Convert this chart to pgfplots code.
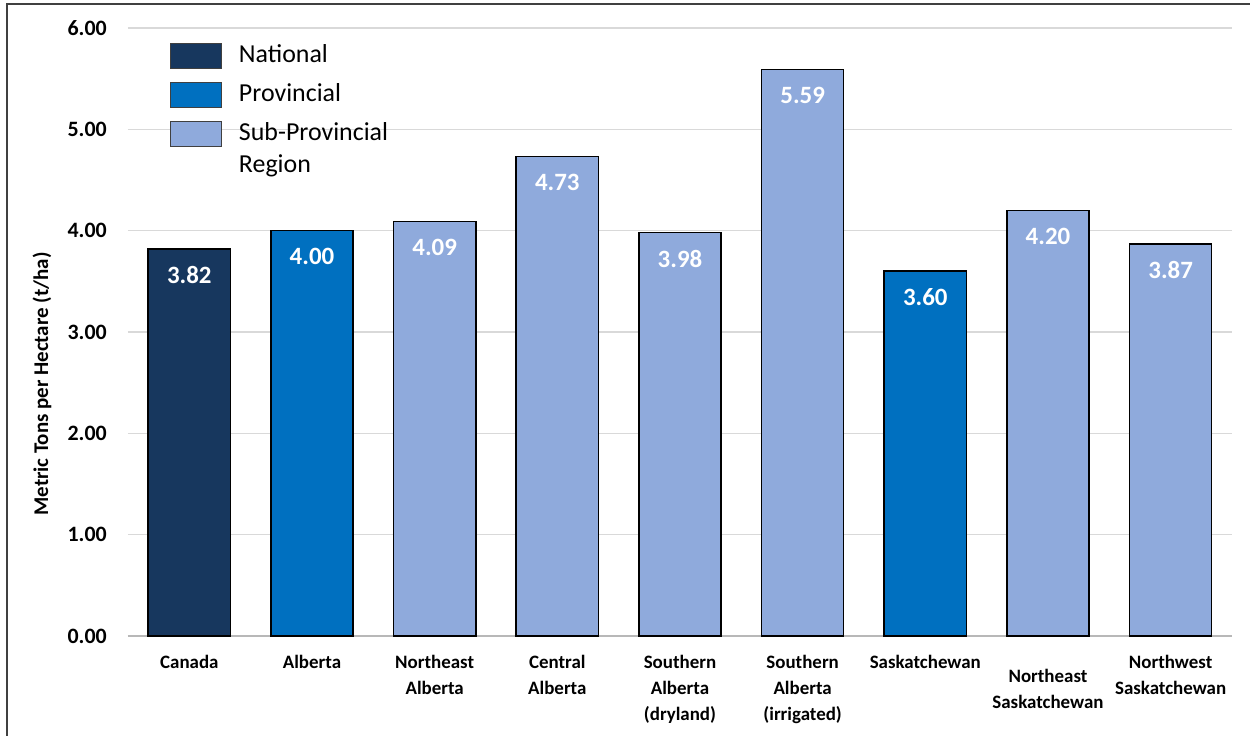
\documentclass[border=0pt]{standalone}
\usepackage{fontspec}
\setmainfont{Carlito}
\usepackage{pgfplots}
\pgfplotsset{compat=1.18}

\definecolor{national}{HTML}{17375E}
\definecolor{provincial}{HTML}{0070C0}
\definecolor{subprov}{HTML}{8FAADC}
\definecolor{gridgray}{HTML}{D9D9D9}
\definecolor{framegray}{HTML}{404040}

\begin{document}
\begin{tikzpicture}
\begin{axis}[
  at={(0,0)}, anchor=south west,
  scale only axis, width=1104bp, height=608bp,
  xmin=-0.5, xmax=8.5, ymin=0, ymax=6,
  /pgf/number format/assume math mode=true,
  ytick={0,1,...,6},
  yticklabel={\pgfmathprintnumber[fixed,fixed zerofill,precision=2]{\tick}},
  xtick={0,...,8},
  xticklabels={Canada, Alberta, Northeast\\Alberta, Central\\Alberta,
    Southern\\Alberta\\(dryland), Southern\\Alberta\\(irrigated),
    Saskatchewan, {\rule{0pt}{27bp}Northeast\\Saskatchewan},
    Northwest\\Saskatchewan},
  major tick length=0pt,
  axis lines*=left,
  x axis line style={draw=gridgray!85!black, line width=1.5bp, -},
  y axis line style={draw=none},
  ymajorgrids,
  grid style={draw=gridgray, line width=1.5bp},
  yticklabel style={font=\fontsize{22}{26}\selectfont\bfseries, inner sep=0pt, xshift=-21bp},
  xticklabel style={font=\fontsize{19}{26}\selectfont\bfseries, align=center, inner sep=0pt, yshift=-19.5bp},
  ybar, bar width=0.67,
  nodes near coords={\pgfmathprintnumber[fixed,fixed zerofill,precision=2]{\pgfplotspointmeta}},
  every node near coord/.append style={anchor=center, yshift=-26bp, text=white,
    font=\fontsize{25}{30}\selectfont\bfseries},
  legend image code/.code={\draw[#1, draw=framegray, line width=0.8bp] (0bp,-12.5bp) rectangle (51bp,12.5bp);},
  legend cell align=left,
  legend style={draw=none, fill=none, at={(rel axis cs:0,1)}, anchor=north west,
    xshift=42bp, yshift=-15bp, inner sep=0pt, row sep=13bp, column sep=17bp,
    nodes={inner sep=0pt, outer sep=0pt, text height=19bp, text depth=6bp},
    font=\fontsize{26}{32}\selectfont},
]
\addplot[fill=national, draw=black, line width=1.5bp, bar shift=0pt] coordinates {(0,3.82)};
\addlegendentry{National}
\addplot[fill=provincial, draw=black, line width=1.5bp, bar shift=0pt] coordinates {(1,4.00) (6,3.60)};
\addlegendentry{Provincial}
\addplot[fill=subprov, draw=black, line width=1.5bp, bar shift=0pt] coordinates {(2,4.09) (3,4.73) (4,3.98) (5,5.59) (7,4.20) (8,3.87)};
\addlegendentry{\parbox[t]{200bp}{\raggedright Sub-Provincial\\Region}}
\end{axis}
\node[rotate=90, font=\fontsize{21}{25}\selectfont\bfseries] at (-86bp,252bp) {Metric Tons per Hectare (t/ha)};
\draw[framegray, line width=2bp] (-121bp,-100bp) -- (-121bp,632bp) -- (1122bp,632bp);
\pgfresetboundingbox
\path[use as bounding box] (-128bp,-100bp) rectangle (1122bp,636bp);
\end{tikzpicture}
\end{document}
